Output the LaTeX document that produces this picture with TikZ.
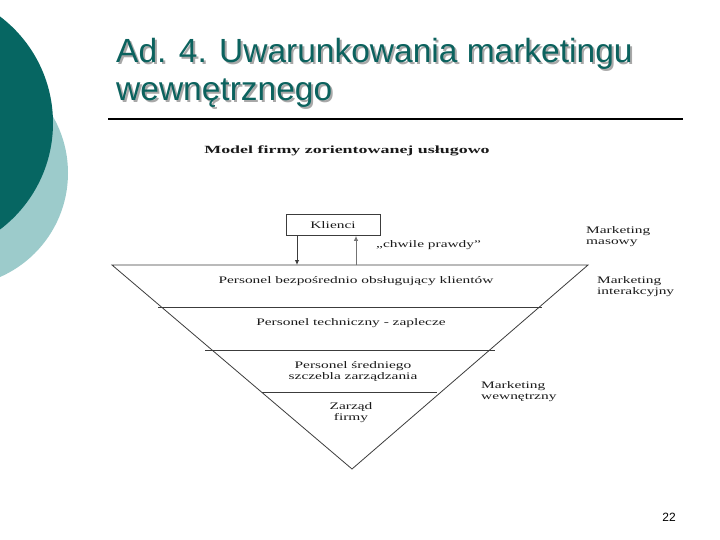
\documentclass[tikz,border=0pt]{standalone}
\usepackage{fontspec}
\usepackage{graphicx}
\usetikzlibrary{arrows.meta}
\setmainfont{Liberation Serif}
\newfontfamily\ttlfont{Liberation Sans}
\definecolor{tealdark}{HTML}{066662}
\definecolor{teallight}{HTML}{9CCBCB}
\definecolor{ttlcol}{HTML}{0B625E}
\definecolor{ttlshadow}{HTML}{A8A8A8}
\definecolor{ink}{HTML}{1A1A1A}
\newcommand\wx[1]{\scalebox{1.54}[1]{#1}}
\newcommand\shtext[1]{\rlap{\hspace{2pt}\raisebox{-2pt}{\color{ttlshadow}#1}}#1}
\begin{document}
\begin{tikzpicture}[x=1pt,y=-1pt,
  ttl/.style={anchor=base west,inner sep=0pt,font=\ttlfont\fontsize{33.5}{38}\selectfont,text=ttlcol},
  body/.style={inner sep=0pt,text=ink,font=\fontsize{10}{11}\selectfont,align=center},
  lbl/.style={body,anchor=west,align=left},
  tri/.style={draw=ink!85,line width=0.8pt},
  arr/.style={line width=0.9pt,-{Latex[length=5pt,width=4.5pt]}}
]
\useasboundingbox (0,0) rectangle (720,540);
\fill[white] (0,0) rectangle (720,540);
% decorative circles
\fill[teallight] (-45.5,173) circle (113.5pt);
\fill[tealdark] (-80.5,123) circle (133.5pt);
% title with shadow
\node[ttl] (t1) at (116,63) {\shtext{Ad. 4. Uwarunkowania marketingu}};
\node[ttl] (t2) at (116,101) {\shtext{wewnętrznego}};
\coordinate (r1) at (108,119);
\coordinate (r2) at (683,119);
\draw[line width=2pt,black] (r1) -- (r2);
% diagram title
\node[body,anchor=base,font=\bfseries\fontsize{11}{12}\selectfont] (mt) at (347,154) {\scalebox{1.63}[1]{Model firmy zorientowanej usługowo}};
% customers box
\node[body,draw=ink!85,line width=0.8pt,minimum width=94pt,minimum height=21pt] (kl) at (333,225) {\wx{Klienci}};
% triangle
\coordinate (tl) at (112,265);
\coordinate (tr) at (588,265);
\coordinate (ap) at (352,469);
\draw[tri] (tl) -- (tr) -- (ap) -- cycle;
\coordinate (d1a) at (158,307); \coordinate (d1b) at (542,307);
\coordinate (d2a) at (205,350); \coordinate (d2b) at (495,350);
\coordinate (d3a) at (262,392); \coordinate (d3b) at (437,392);
\draw[tri] (d1a) -- (d1b);
\draw[tri] (d2a) -- (d2b);
\draw[tri] (d3a) -- (d3b);
% arrows
\coordinate (a1) at (297,265);
\coordinate (a2) at (356,265);
\draw[arr,ink!85] (kl.south -| a1) -- (a1);
\draw[arr,black!55] (a2) -- (kl.south -| a2);
\node[lbl] (cp) at (376,245) {\wx{„chwile prawdy”}};
% levels
\node[body] (p1) at (356,281) {\wx{Personel bezpośrednio obsługujący klientów}};
\node[body] (p2) at (351,323) {\wx{Personel techniczny - zaplecze}};
\node[body] (p3) at (353,371.5) {\wx{Personel średniego}\\\wx{szczebla zarządzania}};
\node[body] (p4) at (351,412.5) {\wx{Zarząd}\\\wx{firmy}};
% marketing labels
\node[lbl] (m1) at (586,236.5) {\wx{Marketing}\\\wx{masowy}};
\node[lbl] (m2) at (597,286.5) {\wx{Marketing}\\\wx{interakcyjny}};
\node[lbl] (m3) at (481,392) {\wx{Marketing}\\\wx{wewnętrzny}};
% page number
\node[inner sep=0pt,font=\ttlfont\fontsize{12}{14}\selectfont] (pg) at (669,517) {22};
\end{tikzpicture}
\end{document}
